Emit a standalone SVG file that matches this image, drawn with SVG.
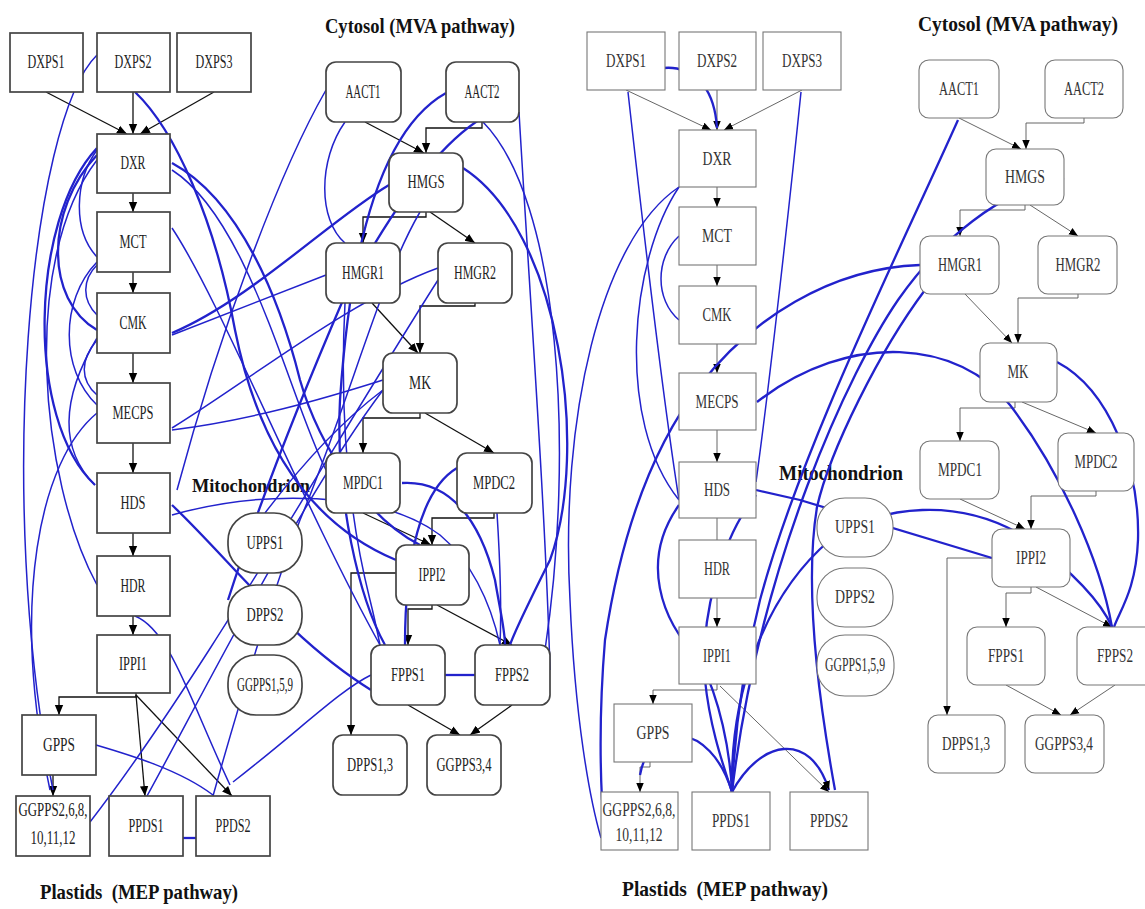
<svg xmlns="http://www.w3.org/2000/svg" width="1145" height="909" viewBox="0 0 1145 909">
<defs>
<marker id="ab" markerUnits="userSpaceOnUse" markerWidth="10" markerHeight="13" refX="12" refY="5" orient="auto" viewBox="0 0 12 10">
<path d="M0,0 L12,5 L0,10 z" fill="#000"/>
</marker>
<marker id="bb" markerUnits="userSpaceOnUse" markerWidth="9" markerHeight="11" refX="12" refY="5" orient="auto" viewBox="0 0 12 10">
<path d="M0,0 L12,5 L0,10 z" fill="#000"/>
</marker>
</defs>
<style>
.bg{fill:#fff}
.n rect{fill:#fff;stroke:#444;stroke-width:1.7}
.r2 rect{stroke:#777;stroke-width:1.1}
.n text{font-family:"Liberation Serif","Times New Roman",serif;font-size:18px;fill:#222;text-anchor:middle}
.r2 text{fill:#333}
.t{font-family:"Liberation Serif","Times New Roman",serif;font-weight:bold;fill:#111}
.k{fill:none;stroke:#111;stroke-width:1.3}
.k2{fill:none;stroke:#555;stroke-width:0.9}
.b{fill:none;stroke:#2222cc;stroke-width:1.5}
.bt{fill:none;stroke:#2222cc;stroke-width:2.3}
</style>
<rect class="bg" x="0" y="0" width="1145" height="909"/>

<text class="t" x="325" y="33" font-size="22" textLength="190" lengthAdjust="spacingAndGlyphs">Cytosol (MVA pathway)</text>
<text class="t" x="918" y="31" font-size="22" textLength="200" lengthAdjust="spacingAndGlyphs">Cytosol (MVA pathway)</text>
<text class="t" x="40" y="899" font-size="22" textLength="198" lengthAdjust="spacingAndGlyphs">Plastids&#160; (MEP pathway)</text>
<text class="t" x="622" y="896" font-size="22" textLength="206" lengthAdjust="spacingAndGlyphs">Plastids&#160; (MEP pathway)</text>
<text class="t" x="192" y="492" font-size="19" textLength="118" lengthAdjust="spacingAndGlyphs">Mitochondrion</text>
<text class="t" x="779" y="480" font-size="20" textLength="124" lengthAdjust="spacingAndGlyphs">Mitochondrion</text>

<g id="connectors">
<!-- left black -->
<path class="k" d="M46,92 L127,134" marker-end="url(#ab)"/>
<path class="k" d="M133,92 L133,134" marker-end="url(#ab)"/>
<path class="k" d="M214,92 L140,134" marker-end="url(#ab)"/>
<path class="k" d="M133,193 L133,212" marker-end="url(#ab)"/>
<path class="k" d="M133,272 L133,293" marker-end="url(#ab)"/>
<path class="k" d="M133,353 L133,383" marker-end="url(#ab)"/>
<path class="k" d="M133,443 L133,473" marker-end="url(#ab)"/>
<path class="k" d="M133,533 L133,556" marker-end="url(#ab)"/>
<path class="k" d="M133,616 L133,635" marker-end="url(#ab)"/>
<path class="k" d="M136,693 L136,697 L59,697 L59,715" marker-end="url(#ab)"/>
<path class="k" d="M136,695 L145,796" marker-end="url(#ab)"/>
<path class="k" d="M136,695 L232,796" marker-end="url(#ab)"/>
<path class="k" d="M53,775 L53,796" marker-end="url(#ab)"/>
<path class="k" d="M365,122 L424,153" marker-end="url(#ab)"/>
<path class="k" d="M482,122 L482,128 L426,128 L426,153" marker-end="url(#ab)"/>
<path class="k" d="M426,212 L426,217 L363,217 L363,243" marker-end="url(#ab)"/>
<path class="k" d="M430,212 L475,243" marker-end="url(#ab)"/>
<path class="k" d="M372,303 L418,353" marker-end="url(#ab)"/>
<path class="k" d="M475,303 L475,306 L420,306 L420,353" marker-end="url(#ab)"/>
<path class="k" d="M420,413 L420,418 L363,418 L363,453" marker-end="url(#ab)"/>
<path class="k" d="M425,413 L494,453" marker-end="url(#ab)"/>
<path class="k" d="M363,513 L431,545" marker-end="url(#ab)"/>
<path class="k" d="M494,513 L494,518 L432,518 L432,545" marker-end="url(#ab)"/>
<path class="k" d="M396,573 L351,573 L351,735" marker-end="url(#ab)"/>
<path class="k" d="M432,605 L432,609 L408,609 L408,645" marker-end="url(#ab)"/>
<path class="k" d="M437,605 L512,645" marker-end="url(#ab)"/>
<path class="k" d="M408,705 L460,735" marker-end="url(#ab)"/>
<path class="k" d="M512,705 L470,735" marker-end="url(#ab)"/>

<!-- right black -->
<path class="k2" d="M626,90 L711,130" marker-end="url(#bb)"/>
<path class="k2" d="M717,90 L717,130" marker-end="url(#bb)"/>
<path class="k2" d="M802,90 L724,130" marker-end="url(#bb)"/>
<path class="k2" d="M717,187 L717,207" marker-end="url(#bb)"/>
<path class="k2" d="M717,265 L717,286" marker-end="url(#bb)"/>
<path class="k2" d="M717,344 L717,373" marker-end="url(#bb)"/>
<path class="k2" d="M717,430 L717,462" marker-end="url(#bb)"/>
<path class="k2" d="M717,518 L717,540"/>
<path class="k2" d="M717,598 L717,627" marker-end="url(#bb)"/>
<path class="k2" d="M717,684 L717,690 L653,690 L653,704" marker-end="url(#bb)"/>
<path class="k2" d="M720,686 L829,792" marker-end="url(#bb)"/>
<path class="k2" d="M650,762 L650,767 L640,767 L640,792" marker-end="url(#bb)"/>
<path class="k2" d="M959,118 L1021,149" marker-end="url(#bb)"/>
<path class="k2" d="M1084,118 L1084,123 L1026,123 L1026,149" marker-end="url(#bb)"/>
<path class="k2" d="M1025,205 L1025,210 L960,210 L960,236" marker-end="url(#bb)"/>
<path class="k2" d="M1030,205 L1078,236" marker-end="url(#bb)"/>
<path class="k2" d="M965,294 L1012,343" marker-end="url(#bb)"/>
<path class="k2" d="M1078,294 L1078,298 L1018,298 L1018,343" marker-end="url(#bb)"/>
<path class="k2" d="M1015,402 L1015,408 L960,408 L960,441" marker-end="url(#bb)"/>
<path class="k2" d="M1022,402 L1096,433" marker-end="url(#bb)"/>
<path class="k2" d="M960,499 L1025,529" marker-end="url(#bb)"/>
<path class="k2" d="M1096,491 L1096,496 L1031,496 L1031,529" marker-end="url(#bb)"/>
<path class="k2" d="M992,558 L947,558 L947,715" marker-end="url(#bb)"/>
<path class="k2" d="M1031,587 L1031,593 L1006,593 L1006,627" marker-end="url(#bb)"/>
<path class="k2" d="M1036,587 L1112,627" marker-end="url(#bb)"/>
<path class="k2" d="M1006,685 L1061,715" marker-end="url(#bb)"/>
<path class="k2" d="M1115,685 L1070,715" marker-end="url(#bb)"/>

<!-- left blue -->
<path class="b" d="M97,55 C30,120 -5,500 53,790"/>
<path class="bt" d="M97,148 C30,220 25,420 95,485"/>
<path class="b" d="M97,150 C75,180 72,230 97,257"/>
<path class="bt" d="M97,155 C45,210 45,300 97,330"/>
<path class="b" d="M97,262 C60,300 60,370 97,405"/>
<path class="b" d="M97,265 C82,280 82,300 97,315"/>
<path class="b" d="M97,340 C80,360 80,380 97,395"/>
<path class="b" d="M97,338 C60,400 60,450 95,485"/>
<path class="b" d="M97,413 C40,460 10,600 50,790"/>
<path class="b" d="M97,160 C20,260 40,480 97,585"/>
<path class="b" d="M135,616 C170,630 190,700 230,785"/>
<path class="bt" d="M135,92 C175,130 215,220 235,330 C255,430 300,520 396,560"/>
<path class="bt" d="M172,163 C240,200 280,300 300,380 C320,450 370,520 420,545"/>
<path class="b" d="M172,228 C220,300 300,500 380,645"/>
<path class="bt" d="M172,333 C250,300 330,220 389,185"/>
<path class="b" d="M172,335 L326,275"/>
<path class="b" d="M172,428 C250,380 350,300 438,268"/>
<path class="b" d="M172,430 C250,420 320,400 383,380"/>
<path class="bt" d="M172,505 C230,560 290,640 371,690"/>
<path class="b" d="M326,90 C280,170 220,330 177,490"/>
<path class="b" d="M345,122 C318,160 318,220 345,243"/>
<path class="bt" d="M446,93 C380,130 350,250 340,400 C335,500 360,600 385,645"/>
<path class="b" d="M483,122 C560,200 575,450 545,650"/>
<path class="b" d="M519,112 C530,300 545,500 550,670"/>
<path class="bt" d="M463,168 C560,230 590,450 550,560 C530,600 515,630 510,645"/>
<path class="bt" d="M402,483 C450,480 480,520 495,580 C500,610 505,630 505,645"/>
<path class="bt" d="M457,468 C420,490 405,560 405,645"/>
<path class="b" d="M497,513 C500,560 502,600 500,645"/>
<path class="b" d="M172,515 C260,490 380,490 440,535 C470,560 490,600 500,645"/>
<path class="bt" d="M445,675 L475,675"/>
<path class="bt" d="M183,838 L196,838"/>
<path class="b" d="M371,675 C340,690 300,730 233,782"/>
<path class="b" d="M96,745 C130,755 180,770 213,795"/>
<path class="b" d="M90,822 C200,680 330,450 438,280"/>
<path class="b" d="M147,796 C200,700 300,500 383,390"/>
<path class="b" d="M345,303 C340,400 345,500 370,600 C375,620 378,635 380,645"/>
<path class="b" d="M420,212 C380,280 350,400 300,520 C270,600 240,700 213,796"/>
<path class="bt" d="M482,118 C430,150 380,230 343,300 C300,400 260,500 228,600"/>
<path class="b" d="M383,390 C330,430 290,480 265,513"/>
<path class="b" d="M172,170 C250,220 290,400 326,470"/>

<!-- right blue -->
<path class="bt" d="M627,90 C645,60 712,50 717,128"/>
<path class="b" d="M628,92 C640,200 660,380 679,500"/>
<path class="b" d="M801,92 C790,200 770,380 756,482"/>
<path class="b" d="M679,187 C600,240 560,420 570,600 C575,720 590,800 601,838"/>
<path class="b" d="M679,187 C630,260 615,420 679,500"/>
<path class="b" d="M679,236 C655,258 655,300 679,320"/>
<path class="bt" d="M920,265 C830,268 750,320 700,385 C650,450 620,540 605,640 C600,700 600,760 602,800"/>
<path class="bt" d="M757,402 C850,330 960,340 1010,405 C1060,470 1100,560 1112,627"/>
<path class="bt" d="M1057,362 C1110,390 1140,470 1138,540 C1136,590 1120,610 1114,627"/>
<path class="bt" d="M756,490 L800,500 L992,558"/>
<path class="bt" d="M732,792 C730,700 760,600 830,540 C880,505 960,495 1030,540 C1070,570 1100,600 1112,627"/>
<path class="bt" d="M958,120 C900,250 800,450 760,600 C745,660 735,720 732,792"/>
<path class="bt" d="M1064,178 C1000,190 940,240 898,300 C850,370 760,560 732,792"/>
<path class="bt" d="M640,775 C650,720 710,720 732,792"/>
<path class="bt" d="M732,792 C760,740 810,730 829,790" marker-end="url(#bb)"/>
<path class="bt" d="M679,505 C640,560 660,620 700,660 C720,700 730,750 732,792"/>
<path class="bt" d="M756,495 C720,540 700,620 705,680 C710,730 725,770 732,792"/>
<path class="bt" d="M925,290 C880,350 830,450 817,507 C805,580 815,680 835,790"/>
</g>

<g id="n-l-dxps1" class="n"><rect x="10" y="33" width="73" height="59"/><text x="46" y="68" textLength="37" lengthAdjust="spacingAndGlyphs">DXPS1</text></g>
<g id="n-l-dxps2" class="n"><rect x="97" y="33" width="73" height="59"/><text x="133" y="68" textLength="37" lengthAdjust="spacingAndGlyphs">DXPS2</text></g>
<g id="n-l-dxps3" class="n"><rect x="177" y="33" width="74" height="59"/><text x="214" y="68" textLength="37" lengthAdjust="spacingAndGlyphs">DXPS3</text></g>
<g id="n-l-dxr" class="n"><rect x="97" y="134" width="73" height="59"/><text x="133" y="169" textLength="25" lengthAdjust="spacingAndGlyphs">DXR</text></g>
<g id="n-l-mct" class="n"><rect x="97" y="212" width="73" height="60"/><text x="133" y="248" textLength="27" lengthAdjust="spacingAndGlyphs">MCT</text></g>
<g id="n-l-cmk" class="n"><rect x="97" y="293" width="73" height="60"/><text x="133" y="329" textLength="27" lengthAdjust="spacingAndGlyphs">CMK</text></g>
<g id="n-l-mecps" class="n"><rect x="97" y="383" width="73" height="60"/><text x="133" y="419" textLength="41" lengthAdjust="spacingAndGlyphs">MECPS</text></g>
<g id="n-l-hds" class="n"><rect x="97" y="473" width="73" height="60"/><text x="133" y="509" textLength="25" lengthAdjust="spacingAndGlyphs">HDS</text></g>
<g id="n-l-hdr" class="n"><rect x="97" y="556" width="73" height="60"/><text x="133" y="592" textLength="25" lengthAdjust="spacingAndGlyphs">HDR</text></g>
<g id="n-l-ippi1" class="n"><rect x="97" y="635" width="73" height="58"/><text x="133" y="670" textLength="28" lengthAdjust="spacingAndGlyphs">IPPI1</text></g>
<g id="n-l-gpps" class="n"><rect x="22" y="715" width="74" height="60"/><text x="59" y="751" textLength="32" lengthAdjust="spacingAndGlyphs">GPPS</text></g>
<g id="n-l-ggpps2" class="n"><rect x="16" y="796" width="74" height="60"/><text x="53" y="816" textLength="69" lengthAdjust="spacingAndGlyphs">GGPPS2,6,8,</text><text x="53" y="844" textLength="45" lengthAdjust="spacingAndGlyphs">10,11,12</text></g>
<g id="n-l-ppds1" class="n"><rect x="109" y="796" width="74" height="60"/><text x="146" y="832" textLength="35" lengthAdjust="spacingAndGlyphs">PPDS1</text></g>
<g id="n-l-ppds2" class="n"><rect x="196" y="796" width="74" height="60"/><text x="233" y="832" textLength="35" lengthAdjust="spacingAndGlyphs">PPDS2</text></g>
<g id="n-l-aact1" class="n"><rect x="326" y="62" width="75" height="60" rx="10"/><text x="363" y="98" textLength="35" lengthAdjust="spacingAndGlyphs">AACT1</text></g>
<g id="n-l-aact2" class="n"><rect x="446" y="62" width="73" height="60" rx="10"/><text x="482" y="98" textLength="35" lengthAdjust="spacingAndGlyphs">AACT2</text></g>
<g id="n-l-hmgs" class="n"><rect x="389" y="153" width="74" height="59" rx="10"/><text x="426" y="188" textLength="37" lengthAdjust="spacingAndGlyphs">HMGS</text></g>
<g id="n-l-hmgr1" class="n"><rect x="326" y="243" width="74" height="60" rx="10"/><text x="363" y="279" textLength="42" lengthAdjust="spacingAndGlyphs">HMGR1</text></g>
<g id="n-l-hmgr2" class="n"><rect x="438" y="243" width="74" height="60" rx="10"/><text x="475" y="279" textLength="42" lengthAdjust="spacingAndGlyphs">HMGR2</text></g>
<g id="n-l-mk" class="n"><rect x="383" y="353" width="74" height="60" rx="10"/><text x="420" y="389" textLength="22" lengthAdjust="spacingAndGlyphs">MK</text></g>
<g id="n-l-mpdc1" class="n"><rect x="326" y="453" width="74" height="60" rx="10"/><text x="363" y="489" textLength="40" lengthAdjust="spacingAndGlyphs">MPDC1</text></g>
<g id="n-l-mpdc2" class="n"><rect x="457" y="453" width="75" height="60" rx="10"/><text x="494" y="489" textLength="42" lengthAdjust="spacingAndGlyphs">MPDC2</text></g>
<g id="n-l-ippi2" class="n"><rect x="396" y="545" width="73" height="60" rx="10"/><text x="432" y="581" textLength="27" lengthAdjust="spacingAndGlyphs">IPPI2</text></g>
<g id="n-l-fpps1" class="n"><rect x="371" y="645" width="74" height="60" rx="10"/><text x="408" y="681" textLength="34" lengthAdjust="spacingAndGlyphs">FPPS1</text></g>
<g id="n-l-fpps2" class="n"><rect x="475" y="645" width="75" height="60" rx="10"/><text x="512" y="681" textLength="34" lengthAdjust="spacingAndGlyphs">FPPS2</text></g>
<g id="n-l-dpps13" class="n"><rect x="333" y="735" width="74" height="60" rx="10"/><text x="370" y="771" textLength="46" lengthAdjust="spacingAndGlyphs">DPPS1,3</text></g>
<g id="n-l-ggpps34" class="n"><rect x="427" y="735" width="74" height="60" rx="10"/><text x="464" y="771" textLength="55" lengthAdjust="spacingAndGlyphs">GGPPS3,4</text></g>
<g id="n-l-upps1" class="n"><rect x="228" y="513" width="74" height="60" rx="28"/><text x="265" y="549" textLength="37" lengthAdjust="spacingAndGlyphs">UPPS1</text></g>
<g id="n-l-dpps2" class="n"><rect x="228" y="585" width="74" height="60" rx="28"/><text x="265" y="621" textLength="37" lengthAdjust="spacingAndGlyphs">DPPS2</text></g>
<g id="n-l-ggpps159" class="n"><rect x="228" y="655" width="74" height="60" rx="28"/><text x="265" y="691" textLength="56" lengthAdjust="spacingAndGlyphs">GGPPS1,5,9</text></g>

<g id="n-r-dxps1" class="n r2"><rect x="587" y="32" width="78" height="58"/><text x="626" y="67" textLength="40" lengthAdjust="spacingAndGlyphs">DXPS1</text></g>
<g id="n-r-dxps2" class="n r2"><rect x="679" y="32" width="77" height="58"/><text x="717" y="67" textLength="40" lengthAdjust="spacingAndGlyphs">DXPS2</text></g>
<g id="n-r-dxps3" class="n r2"><rect x="763" y="32" width="78" height="58"/><text x="802" y="67" textLength="40" lengthAdjust="spacingAndGlyphs">DXPS3</text></g>
<g id="n-r-dxr" class="n r2"><rect x="679" y="130" width="77" height="57"/><text x="717" y="165" textLength="29" lengthAdjust="spacingAndGlyphs">DXR</text></g>
<g id="n-r-mct" class="n r2"><rect x="679" y="207" width="77" height="58"/><text x="717" y="242" textLength="30" lengthAdjust="spacingAndGlyphs">MCT</text></g>
<g id="n-r-cmk" class="n r2"><rect x="679" y="286" width="77" height="58"/><text x="717" y="321" textLength="29" lengthAdjust="spacingAndGlyphs">CMK</text></g>
<g id="n-r-mecps" class="n r2"><rect x="679" y="373" width="77" height="57"/><text x="717" y="408" textLength="43" lengthAdjust="spacingAndGlyphs">MECPS</text></g>
<g id="n-r-hds" class="n r2"><rect x="679" y="462" width="77" height="56"/><text x="717" y="496" textLength="26" lengthAdjust="spacingAndGlyphs">HDS</text></g>
<g id="n-r-hdr" class="n r2"><rect x="679" y="540" width="77" height="58"/><text x="717" y="575" textLength="26" lengthAdjust="spacingAndGlyphs">HDR</text></g>
<g id="n-r-ippi1" class="n r2"><rect x="679" y="627" width="77" height="57"/><text x="717" y="662" textLength="28" lengthAdjust="spacingAndGlyphs">IPPI1</text></g>
<g id="n-r-gpps" class="n r2"><rect x="614" y="704" width="78" height="58"/><text x="653" y="739" textLength="33" lengthAdjust="spacingAndGlyphs">GPPS</text></g>
<g id="n-r-ggpps2" class="n r2"><rect x="601" y="792" width="77" height="58"/><text x="639" y="816" textLength="73" lengthAdjust="spacingAndGlyphs">GGPPS2,6,8,</text><text x="639" y="841" textLength="47" lengthAdjust="spacingAndGlyphs">10,11,12</text></g>
<g id="n-r-ppds1" class="n r2"><rect x="692" y="792" width="78" height="58"/><text x="731" y="827" textLength="38" lengthAdjust="spacingAndGlyphs">PPDS1</text></g>
<g id="n-r-ppds2" class="n r2"><rect x="790" y="792" width="78" height="58"/><text x="829" y="827" textLength="38" lengthAdjust="spacingAndGlyphs">PPDS2</text></g>
<g id="n-r-aact1" class="n r2"><rect x="919" y="60" width="80" height="58" rx="10"/><text x="959" y="95" textLength="40" lengthAdjust="spacingAndGlyphs">AACT1</text></g>
<g id="n-r-aact2" class="n r2"><rect x="1045" y="60" width="78" height="58" rx="10"/><text x="1084" y="95" textLength="40" lengthAdjust="spacingAndGlyphs">AACT2</text></g>
<g id="n-r-hmgs" class="n r2"><rect x="986" y="149" width="78" height="56" rx="10"/><text x="1025" y="183" textLength="40" lengthAdjust="spacingAndGlyphs">HMGS</text></g>
<g id="n-r-hmgr1" class="n r2"><rect x="920" y="236" width="79" height="58" rx="10"/><text x="960" y="271" textLength="44" lengthAdjust="spacingAndGlyphs">HMGR1</text></g>
<g id="n-r-hmgr2" class="n r2"><rect x="1038" y="236" width="79" height="58" rx="10"/><text x="1078" y="271" textLength="45" lengthAdjust="spacingAndGlyphs">HMGR2</text></g>
<g id="n-r-mk" class="n r2"><rect x="980" y="343" width="77" height="59" rx="10"/><text x="1018" y="378" textLength="21" lengthAdjust="spacingAndGlyphs">MK</text></g>
<g id="n-r-mpdc1" class="n r2"><rect x="920" y="441" width="79" height="58" rx="10"/><text x="960" y="476" textLength="44" lengthAdjust="spacingAndGlyphs">MPDC1</text></g>
<g id="n-r-mpdc2" class="n r2"><rect x="1058" y="433" width="76" height="58" rx="10"/><text x="1096" y="468" textLength="43" lengthAdjust="spacingAndGlyphs">MPDC2</text></g>
<g id="n-r-ippi2" class="n r2"><rect x="992" y="529" width="78" height="58" rx="10"/><text x="1031" y="564" textLength="30" lengthAdjust="spacingAndGlyphs">IPPI2</text></g>
<g id="n-r-fpps1" class="n r2"><rect x="967" y="627" width="78" height="58" rx="10"/><text x="1006" y="662" textLength="36" lengthAdjust="spacingAndGlyphs">FPPS1</text></g>
<g id="n-r-fpps2" class="n r2"><rect x="1077" y="627" width="78" height="58" rx="10"/><text x="1115" y="662" textLength="36" lengthAdjust="spacingAndGlyphs">FPPS2</text></g>
<g id="n-r-dpps13" class="n r2"><rect x="928" y="715" width="77" height="58" rx="10"/><text x="966" y="750" textLength="48" lengthAdjust="spacingAndGlyphs">DPPS1,3</text></g>
<g id="n-r-ggpps34" class="n r2"><rect x="1025" y="715" width="79" height="58" rx="10"/><text x="1064" y="750" textLength="58" lengthAdjust="spacingAndGlyphs">GGPPS3,4</text></g>
<g id="n-r-upps1" class="n r2"><rect x="817" y="498" width="76" height="59" rx="28"/><text x="855" y="533" textLength="40" lengthAdjust="spacingAndGlyphs">UPPS1</text></g>
<g id="n-r-dpps2" class="n r2"><rect x="817" y="568" width="76" height="59" rx="28"/><text x="855" y="603" textLength="40" lengthAdjust="spacingAndGlyphs">DPPS2</text></g>
<g id="n-r-ggpps159" class="n r2"><rect x="817" y="635" width="77" height="61" rx="28"/><text x="855" y="671" textLength="60" lengthAdjust="spacingAndGlyphs">GGPPS1,5,9</text></g>
</svg>
